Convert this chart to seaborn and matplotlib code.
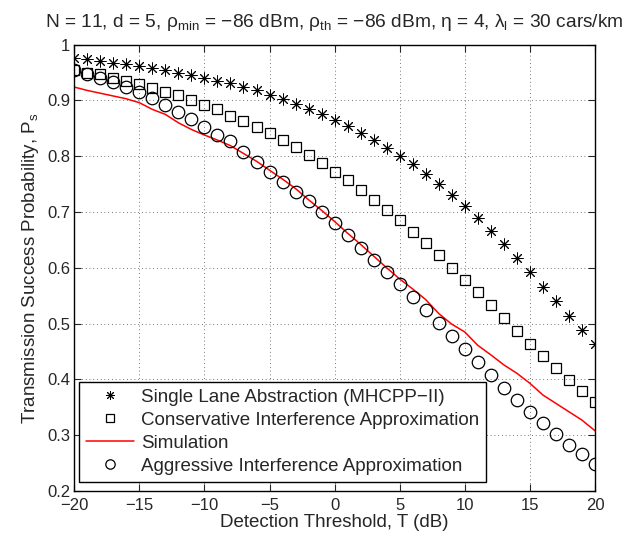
import matplotlib
matplotlib.use("Agg")
import matplotlib.pyplot as plt
import seaborn as sns

# detection threshold T (dB)
thresh_db = [-20, -19, -18, -17, -16, -15, -14, -13, -12, -11, -10, -9, -8, -7, -6, -5, -4, -3, -2, -1,
             0, 1, 2, 3, 4, 5, 6, 7, 8, 9, 10, 11, 12, 13, 14, 15, 16, 17, 18, 19, 20]

single_lane = [0.977, 0.974, 0.971, 0.968, 0.965, 0.962, 0.959, 0.955, 0.950, 0.946, 0.941, 0.935, 0.931,
               0.924, 0.918, 0.910, 0.902, 0.894, 0.885, 0.876, 0.865, 0.854, 0.842, 0.829, 0.815, 0.801,
               0.786, 0.768, 0.750, 0.731, 0.711, 0.689, 0.666, 0.642, 0.617, 0.592, 0.566, 0.540, 0.514,
               0.489, 0.463]
conservative = [0.955, 0.950, 0.947, 0.941, 0.935, 0.930, 0.922, 0.916, 0.909, 0.901, 0.892, 0.884, 0.873,
                0.864, 0.853, 0.841, 0.829, 0.817, 0.802, 0.788, 0.772, 0.757, 0.740, 0.722, 0.703, 0.685,
                0.664, 0.644, 0.623, 0.600, 0.578, 0.556, 0.533, 0.510, 0.487, 0.464, 0.442, 0.420, 0.399,
                0.379, 0.360]
simulation = [0.924, 0.918, 0.913, 0.908, 0.903, 0.896, 0.884, 0.875, 0.860, 0.848, 0.838, 0.829, 0.819,
              0.805, 0.791, 0.775, 0.759, 0.742, 0.722, 0.703, 0.683, 0.662, 0.642, 0.621, 0.600, 0.580,
              0.562, 0.543, 0.518, 0.499, 0.485, 0.461, 0.444, 0.426, 0.411, 0.393, 0.372, 0.357, 0.342,
              0.327, 0.308]
aggressive = [0.955, 0.947, 0.940, 0.933, 0.924, 0.915, 0.904, 0.892, 0.880, 0.867, 0.853, 0.838, 0.827,
              0.807, 0.790, 0.772, 0.754, 0.736, 0.720, 0.700, 0.680, 0.658, 0.636, 0.614, 0.593, 0.571,
              0.547, 0.524, 0.501, 0.478, 0.455, 0.431, 0.408, 0.385, 0.363, 0.342, 0.321, 0.302, 0.283,
              0.267, 0.249]

labels = ["Single Lane Abstraction (MHCPP\u2212II)",
          "Conservative Interference Approximation",
          "Simulation",
          "Aggressive Interference Approximation"]

x_ticks = [-20, -15, -10, -5, 0, 5, 10, 15, 20]
y_ticks = [0.2, 0.3, 0.4, 0.5, 0.6, 0.7, 0.8, 0.9, 1.0]
y_ticklabels = ["0.2", "0.3", "0.4", "0.5", "0.6", "0.7", "0.8", "0.9", "1"]

sns.set_style("ticks")
plt.rcParams["font.family"] = ["Liberation Sans", "DejaVu Sans"]
plt.rcParams["mathtext.fontset"] = "custom"
plt.rcParams["mathtext.rm"] = "Liberation Sans"
plt.rcParams["mathtext.it"] = "Liberation Sans"
plt.rcParams["mathtext.bf"] = "Liberation Sans:bold"

fig = plt.figure(figsize=(6.24, 5.37), dpi=100)
ax = fig.add_axes([0.119, 0.0857, 0.8345, 0.8311])

# asterisks / squares / line / circles, in legend order
# (seaborn makes marker edges white by default, so set them black)
sns.lineplot(x=thresh_db, y=single_lane, ax=ax, marker=(8, 2, 0), markersize=8.5, linestyle="none",
             color="black", markeredgecolor="black", markeredgewidth=0.7, label=labels[0])
sns.lineplot(x=thresh_db, y=conservative, ax=ax, marker="s", markersize=7, linestyle="none",
             color="black", markerfacecolor="none", markeredgecolor="black", markeredgewidth=0.9,
             label=labels[1])
sns.lineplot(x=thresh_db, y=simulation, ax=ax, color="red", linewidth=1.1, label=labels[2])
sns.lineplot(x=thresh_db, y=aggressive, ax=ax, marker="o", markersize=9, linestyle="none",
             color="black", markerfacecolor="none", markeredgecolor="black", markeredgewidth=0.9,
             label=labels[3])

ax.set_xlim(-20, 20)
ax.set_ylim(0.2, 1.0)
ax.set_xticks(x_ticks)
ax.set_yticks(y_ticks)
ax.set_yticklabels(y_ticklabels)
ax.tick_params(direction="in", top=True, right=True, length=5, width=0.8, labelsize=12, pad=3)
ax.tick_params(axis="x", pad=5)
ax.grid(True, color="black", linestyle=(0, (1, 3.5)), linewidth=0.6, alpha=0.7)
for s in ax.spines.values():
    s.set_linewidth(1.0)
    s.set_color("black")

ax.set_xlabel("Detection Threshold, T (dB)", fontsize=13.5, labelpad=1)
ax.set_ylabel("Transmission Success Probability, P$_\\mathrm{s}$", fontsize=13.5, labelpad=4)
ax.set_title("N = 11, d = 5, $\\rho_{\\mathrm{min}}$ = \u221286 dBm, $\\rho_{\\mathrm{th}}$ = \u221286 dBm, "
             "$\\eta$ = 4, $\\lambda_{\\mathrm{l}}$ = 30 cars/km", fontsize=13.8, pad=13)

leg = ax.legend(loc="lower left", bbox_to_anchor=(0.009, 0.021), borderaxespad=0, fontsize=13.5,
                frameon=True, fancybox=False, edgecolor="black", framealpha=1, handlelength=2.6,
                handletextpad=0.35, labelspacing=0.32, borderpad=0.35, markerscale=0.75)
leg.get_frame().set_linewidth(1.0)

fig.savefig("out.png", dpi=100)
